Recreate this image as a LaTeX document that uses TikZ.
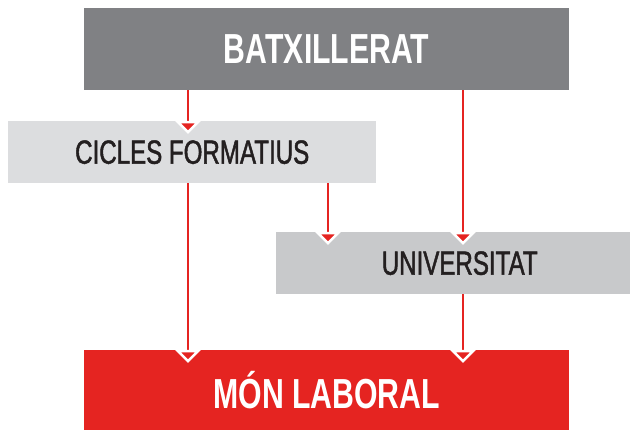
\documentclass[tikz,border=0pt]{standalone}
\usepackage{fontspec}
\newfontfamily\narrowfont[FakeStretch=0.72]{Liberation Sans}
\newfontfamily\mediumfont[FakeStretch=0.72,FakeBold=1.4]{Liberation Sans}
\usetikzlibrary{arrows.meta}

\definecolor{batxgray}{RGB}{128,129,132}
\definecolor{ciclegray}{RGB}{220,221,223}
\definecolor{unigray}{RGB}{200,201,203}
\definecolor{laboralred}{RGB}{229,36,33}
\definecolor{textdark}{RGB}{35,31,32}

\begin{document}
\begin{tikzpicture}[x=1pt,y=-1pt,
    box/.style={anchor=north west, inner sep=0pt, text=textdark,
      font=\mediumfont\fontsize{33.5}{33.5}\selectfont},
    bigbox/.style={box, text=white,
      font=\narrowfont\bfseries\fontsize{42}{42}\selectfont},
    flow/.style={draw=laboralred, line width=2.2pt, shorten >=-13pt,
      -{Triangle[width=25pt,length=13pt,color=white,fill=laboralred,line width=2.5pt]}}]

    \useasboundingbox (0,0) rectangle (640,430);

    \node[bigbox, fill=batxgray, minimum width=485pt, minimum height=82pt]
      (batx) at (84,8) {BATXILLERAT};
    \node[box, fill=ciclegray, minimum width=368pt, minimum height=62pt]
      (cicles) at (8,121) {CICLES FORMATIUS};
    \node[box, fill=unigray, minimum width=354pt, minimum height=62pt]
      (uni) at (276,232) {\hspace*{13pt}UNIVERSITAT};
    \node[bigbox, fill=laboralred, minimum width=485pt, minimum height=80pt]
      (laboral) at (84,350) {MÓN LABORAL};

    \draw[flow] (188,0 |- batx.south) -- (188,0 |- cicles.north);
    \draw[flow] (463,0 |- batx.south) -- (463,0 |- uni.north);
    \draw[flow] (328,0 |- cicles.south) -- (328,0 |- uni.north);
    \draw[flow] (188,0 |- cicles.south) -- (188,0 |- laboral.north);
    \draw[flow] (463,0 |- uni.south) -- (463,0 |- laboral.north);

\end{tikzpicture}
\end{document}
